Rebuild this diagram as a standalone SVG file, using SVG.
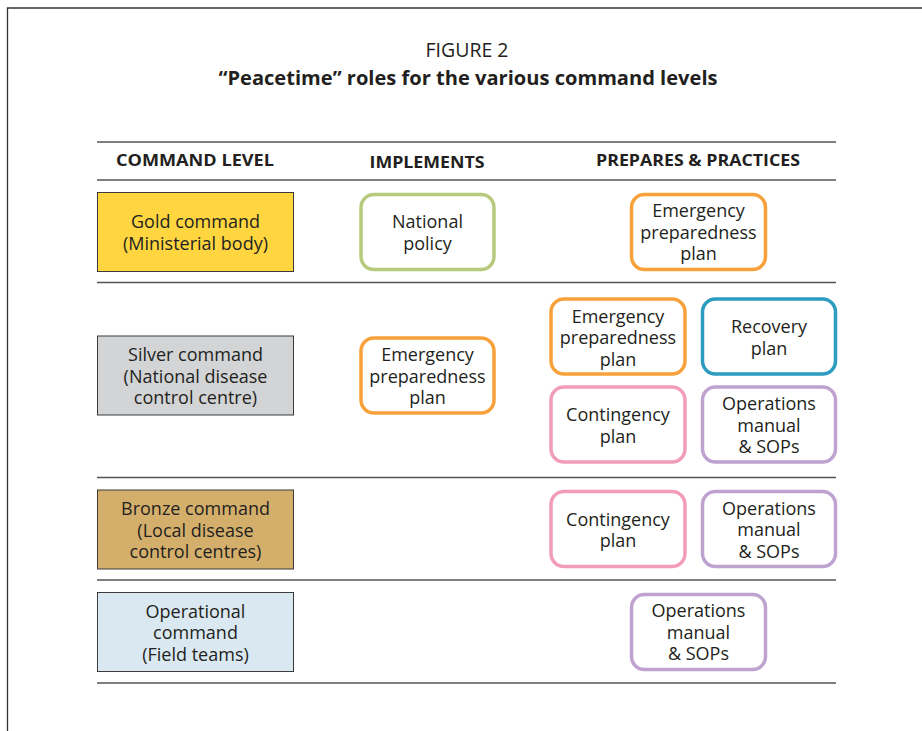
<svg xmlns="http://www.w3.org/2000/svg" width="922" height="731" viewBox="0 0 922 731">
<style>
text{font-family:"Open Sans","Noto Sans","DejaVu Sans",sans-serif;fill:#231F20;text-anchor:middle}
.t{font-size:18px}
.h{font-size:16px;font-weight:bold}
.ti{font-size:19px;font-weight:bold}
.f{font-size:19.5px}
.lvl{stroke:#3a3a3a;stroke-width:1}
.rb{fill:#fff;stroke-width:3.5}
.rule{stroke:#555;stroke-width:1.3}
</style>
<rect width="922" height="731" fill="#fff"/>
<path d="M7.5 731 V8 H922" fill="none" stroke="#333" stroke-width="1.3"/>
<text class="f" x="467" y="57">FIGURE 2</text>
<text class="ti" x="468" y="85" textLength="499" lengthAdjust="spacingAndGlyphs">“Peacetime” roles for the various command levels</text>
<g id="rules">
<line class="rule" x1="97" y1="142" x2="836" y2="142"/>
<line class="rule" x1="97" y1="180" x2="836" y2="180"/>
<line class="rule" x1="97" y1="282.5" x2="836" y2="282.5"/>
<line class="rule" x1="97" y1="477.5" x2="836" y2="477.5"/>
<line class="rule" x1="97" y1="580" x2="836" y2="580"/>
<line class="rule" x1="97" y1="683" x2="836" y2="683"/>
</g>
<g id="headers">
<text class="h" x="195" y="166" textLength="158" lengthAdjust="spacingAndGlyphs">COMMAND LEVEL</text>
<text class="h" x="427" y="168" textLength="115" lengthAdjust="spacingAndGlyphs">IMPLEMENTS</text>
<text class="h" x="698" y="166" textLength="204" lengthAdjust="spacingAndGlyphs">PREPARES &amp; PRACTICES</text>
</g>
<g id="gold">
<rect class="lvl" x="97.5" y="192.5" width="196" height="79" fill="#FFD540"/>
<text class="t" x="195.5" y="228">Gold command</text>
<text class="t" x="195.5" y="249.5">(Ministerial body)</text>
</g>
<g id="silver">
<rect class="lvl" x="97.5" y="336" width="196" height="79" fill="#D2D4D6"/>
<text class="t" x="195.5" y="361">Silver command</text>
<text class="t" x="195.5" y="382.5">(National disease</text>
<text class="t" x="195.5" y="404">control centre)</text>
</g>
<g id="bronze">
<rect class="lvl" x="97.5" y="490" width="196" height="79" fill="#D4AF6C"/>
<text class="t" x="195.5" y="515">Bronze command</text>
<text class="t" x="195.5" y="536.5">(Local disease</text>
<text class="t" x="195.5" y="558">control centres)</text>
</g>
<g id="operational">
<rect class="lvl" x="97.5" y="592.5" width="196" height="79" fill="#DAE8F1"/>
<text class="t" x="195.5" y="617.5">Operational</text>
<text class="t" x="195.5" y="639">command</text>
<text class="t" x="195.5" y="660.5">(Field teams)</text>
</g>
<g id="gold-national-policy">
<rect class="rb" x="361" y="194.5" width="133" height="75" rx="13" stroke="#B8CA7C"/>
<text class="t" x="427.5" y="228">National</text>
<text class="t" x="427.5" y="249.5">policy</text>
</g>
<g id="gold-epp">
<rect class="rb" x="631.5" y="194.5" width="134" height="75" rx="13" stroke="#F7A13A"/>
<text class="t" x="698.5" y="217">Emergency</text>
<text class="t" x="698.5" y="238.5">preparedness</text>
<text class="t" x="698.5" y="260">plan</text>
</g>
<g id="silver-epp-impl">
<rect class="rb" x="361" y="338" width="133" height="75" rx="13" stroke="#F7A13A"/>
<text class="t" x="427.5" y="361">Emergency</text>
<text class="t" x="427.5" y="382.5">preparedness</text>
<text class="t" x="427.5" y="404">plan</text>
</g>
<g id="silver-epp">
<rect class="rb" x="551" y="299" width="134" height="75" rx="13" stroke="#F7A13A"/>
<text class="t" x="618" y="322.5">Emergency</text>
<text class="t" x="618" y="344">preparedness</text>
<text class="t" x="618" y="365.5">plan</text>
</g>
<g id="silver-recovery">
<rect class="rb" x="702.5" y="299" width="133" height="75" rx="13" stroke="#2C9CC0"/>
<text class="t" x="769" y="333">Recovery</text>
<text class="t" x="769" y="354.5">plan</text>
</g>
<g id="silver-contingency">
<rect class="rb" x="551" y="387" width="134" height="75" rx="13" stroke="#F29CBB"/>
<text class="t" x="618" y="421">Contingency</text>
<text class="t" x="618" y="442.5">plan</text>
</g>
<g id="silver-operations">
<rect class="rb" x="702.5" y="387" width="133" height="75" rx="13" stroke="#BEA2D0"/>
<text class="t" x="769" y="410">Operations</text>
<text class="t" x="769" y="431.5">manual</text>
<text class="t" x="769" y="453">&amp; SOPs</text>
</g>
<g id="bronze-contingency">
<rect class="rb" x="551" y="491.5" width="134" height="75" rx="13" stroke="#F29CBB"/>
<text class="t" x="618" y="525.5">Contingency</text>
<text class="t" x="618" y="547">plan</text>
</g>
<g id="bronze-operations">
<rect class="rb" x="702.5" y="491.5" width="133" height="75" rx="13" stroke="#BEA2D0"/>
<text class="t" x="769" y="514.5">Operations</text>
<text class="t" x="769" y="536">manual</text>
<text class="t" x="769" y="557.5">&amp; SOPs</text>
</g>
<g id="operational-operations">
<rect class="rb" x="631.5" y="594.5" width="134" height="75" rx="13" stroke="#BEA2D0"/>
<text class="t" x="698.5" y="617">Operations</text>
<text class="t" x="698.5" y="638.5">manual</text>
<text class="t" x="698.5" y="660">&amp; SOPs</text>
</g>
<g id="connectors"></g>
</svg>
